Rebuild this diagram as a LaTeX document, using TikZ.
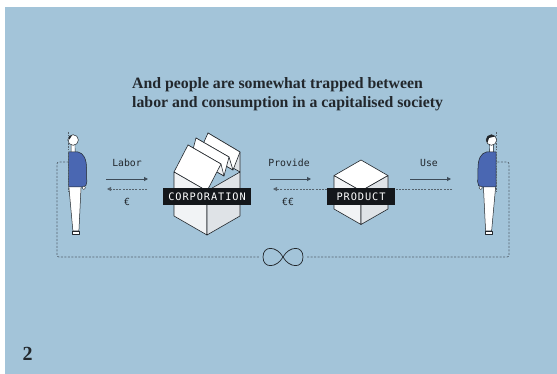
\documentclass[tikz,border=0pt]{standalone}
\usepackage{fontspec}
\setmainfont{Liberation Serif}
\newfontfamily\monofont{DejaVu Sans Mono}
\newfontfamily\tagfont[LetterSpace=9]{DejaVu Sans Mono}
\usetikzlibrary{arrows.meta}

\definecolor{bg}{HTML}{A3C4D9}
\definecolor{ink}{HTML}{22272C}
\definecolor{arrowc}{HTML}{3D4B58}
\definecolor{dashc}{HTML}{55636E}
\definecolor{sweater}{HTML}{4A67B2}
\definecolor{faceL}{HTML}{F1F3F5}
\definecolor{faceR}{HTML}{DFE3E7}
\definecolor{tagbg}{HTML}{14171B}

\tikzset{
  edge/.style={draw=ink, line width=0.6pt, line join=round},
  flowarrow/.style={draw=arrowc, line width=0.9pt, -{Triangle[length=4pt,width=4pt]}},
  backarrow/.style={draw=dashc, line width=0.8pt, dash pattern=on 2pt off 1.2pt, -{Triangle[length=4pt,width=4pt]}},
  loopline/.style={draw=dashc, line width=0.7pt, dash pattern=on 2pt off 1.5pt, rounded corners=2pt},
  flowlabel/.style={font=\monofont\fontsize{9.8}{11}\selectfont, text=ink, inner sep=0pt},
  blacktag/.style={fill=tagbg, text=white, font=\tagfont\fontsize{10.3}{12}\selectfont,
    inner xsep=0pt, inner ysep=0pt, minimum height=17pt},
  titletext/.style={font=\bfseries\fontsize{15.8}{18}\selectfont, text=ink, inner sep=0pt, anchor=base west},
  person/.pic={
    % neck
    \fill[white] (2.6,11) rectangle (6.4,21);
    \draw[edge, line width=0.4pt] (2.6,12) -- (2.6,21) (6.4,12) -- (6.7,21);
    % head
    \draw[edge, fill=white, line width=0.5pt] (4.6,8) circle[radius=5.3];
    % trousers and shoe
    \draw[edge, fill=white, line width=0.5pt] (0.3,54) -- (12.6,54) -- (10.4,99) -- (4.4,99) -- cycle;
    \draw[edge, fill=white, line width=0.5pt] (4.2,99) rectangle (10.4,102.5);
    % sweater
    \draw[edge, fill=sweater, line width=0.5pt] (0,20) -- (9.5,20)
      .. controls (15,21) and (18,27) .. (18,36) -- (18.3,50)
      .. controls (18.3,53) and (17,55) .. (14.5,55) -- (0,55) -- cycle;
    % hand
    \draw[edge, fill=white, line width=0.4pt] (15.3,55.8) circle[radius=1.8];
  },
}

\begin{document}
\begin{tikzpicture}[x=1pt, y=-1pt]
  \path[use as bounding box] (0,0) rectangle (557,374);
  \fill[bg] (5,7) rectangle (557,374);

  % heading and page number
  \node[titletext] (title1) at (132,89) {And people are somewhat trapped between};
  \node[titletext] (title2) at (132,108) {labor and consumption in a capitalised society};
  \node[font=\bfseries\fontsize{20}{22}\selectfont, text=ink, inner sep=0pt, anchor=base west] (page) at (22.5,360) {2};

  % people
  \pic (worker) at (68.5,132) {person};
  \begin{scope}
    \clip (73.1,140) circle[radius=5.3];
    \fill[ink] (67,132) -- (74,132) -- (69.5,139.5) -- (67,139) -- cycle;
  \end{scope}
  \pic[xscale=-1] (consumer) at (496,132) {person};
  \begin{scope}
    \clip (491.4,140) circle[radius=5.3];
    \fill[ink] (497,130) -- (484,130) -- (484,143) -- (487.5,142.5) -- (489,138) -- (493,137) -- (497,136) -- cycle;
  \end{scope}
  \draw[dashc, line width=0.6pt, dash pattern=on 1.6pt off 1.2pt] (68.5,132) -- (68.5,192);
  \draw[dashc, line width=0.6pt, dash pattern=on 1.6pt off 1.2pt] (496,132) -- (496,192);

  % endless loop under everything
  \coordinate (wStub) at (68.5,162);
  \coordinate (cStub) at (496,162);
  \node[minimum width=48pt, minimum height=20pt, inner sep=0pt] (infty) at (283,257) {};
  \draw[edge, line width=0.7pt] (283,257)
    .. controls (289,246) and (303,245) .. (303,257)
    .. controls (303,269) and (289,268) .. (283,257)
    .. controls (277,246) and (263,245) .. (263,257)
    .. controls (263,269) and (277,268) .. (283,257);
  \draw[loopline] (wStub) -- (57,162) -- (57,257) -- (infty.west);
  \draw[loopline] (infty.east) -- (509,257) -- (509,162) -- (cStub);

  % flow labels and arrows
  \node[flowlabel] (labor) at (127,163) {Labor};
  \node[flowlabel] (euro) at (127,202) {€};
  \node[flowlabel] (provide) at (289,163) {Provide};
  \node[flowlabel] (euros) at (288,202) {€€};
  \node[flowlabel] (use) at (429,163) {Use};

  \coordinate (laborS) at (106,179);  \coordinate (laborE) at (148,179);
  \coordinate (payS) at (147,189);    \coordinate (payE) at (107,189);
  \coordinate (provS) at (270,179);   \coordinate (provE) at (311,179);
  \coordinate (buyS) at (452,189);    \coordinate (buyE) at (273,189);
  \coordinate (useS) at (410,179);    \coordinate (useE) at (451,179);

  \draw[flowarrow] (laborS) -- (laborE);
  \draw[backarrow] (payS) -- (payE);
  \draw[flowarrow] (provS) -- (provE);
  \draw[backarrow] (buyS) -- (buyE);
  \draw[flowarrow] (useS) -- (useE);

  % corporation: open box with accordion-folded lid
  \draw[edge, fill=faceR] (208,133) -- (240,152) -- (240,172) -- (207,153) -- cycle;
  \draw[edge, fill=white] (200,151) -- (233,170) -- (240,152) -- (208,133) -- cycle;
  \draw[edge, fill=faceL] (196,138) -- (229,157) -- (233,170) -- (200,151) -- cycle;
  \draw[edge, fill=white] (191,157) -- (224,176) -- (229,157) -- (196,138) -- cycle;
  \draw[edge, fill=faceL] (188,145) -- (221,164) -- (224,176) -- (191,157) -- cycle;
  \draw[edge, fill=white] (174,172) -- (207,191) -- (221,164) -- (188,145) -- cycle;
  \draw[edge, fill=faceL] (174,172) -- (207,191) -- (207,235) -- (174,216) -- cycle;
  \draw[edge, fill=faceR] (207,191) -- (240,172) -- (240,216) -- (207,235) -- cycle;
  \node[blacktag, minimum width=88pt] (corp) at (207,196.5) {CORPORATION};

  % product: closed cube
  \draw[edge, fill=white] (361,160) -- (388,175.6) -- (361,191) -- (334,175.6) -- cycle;
  \draw[edge, fill=faceL] (334,175.6) -- (361,191) -- (361,224.5) -- (334,209) -- cycle;
  \draw[edge, fill=faceR] (361,191) -- (388,175.6) -- (388,209) -- (361,224.5) -- cycle;
  \node[blacktag, minimum width=68pt] (product) at (361,196.5) {PRODUCT};
\end{tikzpicture}
\end{document}
